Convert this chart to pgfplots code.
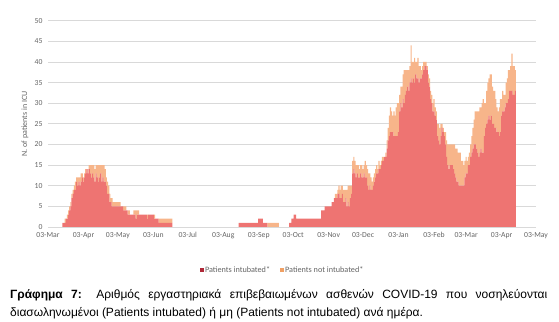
\documentclass[border=0pt]{standalone}
\usepackage{fontspec}
\setmainfont{Liberation Sans}
\newfontfamily\carlito{Carlito}
\usepackage{pgfplots}
\usepackage{pgfplotstable}
\pgfplotsset{compat=1.18}
\definecolor{intub}{RGB}{238,116,114}
\definecolor{notintub}{RGB}{247,181,138}
\definecolor{intubleg}{RGB}{175,40,55}
\definecolor{notintubleg}{RGB}{240,160,100}
\definecolor{gridgray}{RGB}{217,217,217}
\definecolor{txtgray}{RGB}{100,100,100}

\pgfplotstableread{
d a b
13 1 0
14 1 0
15 1 1
16 2 0
17 2 1
18 3 1
19 4 1
20 5 1
21 7 1
22 8 1
23 9 1
24 9 2
25 11 1
26 10 2
27 11 1
28 10 2
29 11 2
30 12 1
31 11 1
32 12 1
33 13 1
34 14 0
35 13 1
36 14 1
37 13 2
38 12 3
39 13 2
40 12 3
41 11 3
42 13 2
43 12 3
44 11 4
45 12 3
46 13 2
47 11 4
48 12 3
49 11 4
50 11 3
51 10 2
52 8 3
53 8 2
54 6 2
55 6 1
56 5 2
57 5 1
58 5 1
59 5 1
60 5 1
61 5 1
62 5 1
63 5 1
64 5 0
65 5 0
66 4 1
67 4 1
68 4 1
69 4 0
70 3 1
71 3 1
72 3 0
73 3 0
74 3 0
75 3 1
76 3 1
77 2 2
78 3 1
79 3 1
80 3 0
81 3 0
82 3 0
83 3 0
84 3 0
85 3 0
86 3 0
87 2 1
88 3 0
89 3 0
90 3 0
91 3 0
92 3 0
93 2 1
94 2 0
95 2 0
96 2 0
97 1 1
98 1 1
99 1 1
100 1 1
101 1 1
102 1 1
103 1 1
104 1 1
105 1 1
106 1 1
107 1 1
108 1 1
167 1 0
168 1 0
169 1 0
170 1 0
171 1 0
172 1 0
173 1 0
174 1 0
175 1 0
176 1 0
177 1 0
178 1 0
179 1 0
180 1 0
181 1 0
182 1 0
183 1 0
184 2 0
185 2 0
186 2 0
187 2 0
188 1 0
189 1 0
190 1 0
191 1 0
192 0 1
193 0 1
194 0 1
195 0 1
196 0 1
197 0 1
198 0 1
199 0 1
200 0 1
201 0 1
211 1 0
212 1 0
213 2 0
214 2 0
215 3 0
216 3 0
217 2 0
218 2 0
219 2 0
220 2 0
221 2 0
222 2 0
223 2 0
224 2 0
225 2 0
226 2 0
227 2 0
228 2 0
229 2 0
230 2 0
231 2 0
232 2 0
233 2 0
234 2 0
235 2 0
236 2 0
237 2 0
238 2 0
239 4 0
240 4 0
241 4 0
242 5 0
243 5 0
244 5 0
245 5 0
246 5 0
247 5 0
248 6 0
249 6 0
250 7 0
251 7 1
252 7 1
253 8 1
254 8 2
255 7 2
256 7 3
257 8 2
258 6 3
259 6 3
260 7 2
261 5 4
262 6 4
263 5 5
264 7 3
265 8 2
266 13 3
267 14 3
268 13 3
269 12 3
270 13 2
271 12 3
272 12 2
273 13 2
274 12 3
275 12 2
276 13 2
277 12 4
278 12 3
279 10 4
280 9 4
281 10 3
282 9 3
283 9 2
284 10 2
285 11 2
286 12 2
287 13 2
288 13 1
289 14 2
290 14 1
291 15 1
292 16 1
293 16 1
294 17 0
295 17 1
296 19 2
297 21 3
298 22 5
299 23 6
300 23 5
301 23 4
302 22 6
303 22 5
304 22 7
305 22 8
306 23 7
307 28 4
308 30 4
309 29 5
310 31 6
311 30 8
312 32 6
313 33 5
314 34 4
315 33 5
316 35 4
317 36 8
318 35 5
319 36 4
320 35 6
321 37 3
322 36 4
323 36 5
324 35 4
325 36 3
326 36 2
327 37 2
328 38 2
329 39 1
330 39 1
331 38 1
332 35 2
333 34 2
334 31 2
335 30 2
336 28 2
337 28 3
338 27 2
339 26 2
340 22 3
341 21 4
342 20 4
343 22 3
344 24 1
345 23 1
346 22 1
347 20 3
348 17 4
349 15 5
350 14 6
351 15 5
352 15 5
353 15 5
354 14 6
355 13 7
356 12 7
357 11 8
358 11 7
359 10 8
360 10 8
361 10 6
362 10 6
363 10 5
364 12 4
365 13 4
366 13 3
367 15 2
368 15 3
369 17 3
370 18 4
371 19 5
372 20 6
373 20 8
374 19 9
375 18 10
376 17 11
377 18 11
378 19 10
379 18 12
380 18 13
381 22 8
382 24 6
383 25 8
384 26 9
385 27 9
386 26 11
387 27 10
388 25 9
389 25 8
390 24 9
391 24 7
392 23 6
393 23 5
394 22 7
395 23 8
396 27 4
397 28 5
398 28 4
399 29 3
400 30 5
401 30 6
402 31 7
403 33 5
404 33 6
405 33 9
406 32 7
407 32 7
408 33 5
}\icudata

\begin{document}
\begin{tikzpicture}[x=1pt,y=1pt]
\useasboundingbox (0,0) rectangle (559,321);
\begin{axis}[
  at={(48pt,94pt)}, anchor=south west,
  scale only axis, width=488pt, height=206.3pt,
  xmin=0, xmax=426, ymin=0, ymax=50,
  enlargelimits=false,
  ybar stacked, bar width=1,
  xtick={0,31,61,92,122,153,184,214,245,275,306,337,365,396,426},
  xticklabels={03-Mar,03-Apr,03-May,03-Jun,03-Jul,03-Aug,03-Sep,03-Oct,03-Nov,03-Dec,03-Jan,03-Feb,03-Mar,03-Apr,03-May},
  ytick={0,5,...,50},
  ymajorgrids, grid style={draw=gridgray, line width=0.7pt},
  axis x line*=bottom, axis y line*=left,
  x axis line style={draw=gridgray, line width=0.7pt},
  y axis line style={draw=none},
  major tick length=0pt,
  /pgf/number format/assume math mode=true,
  ticklabel style={font=\carlito\fontsize{7.7}{8}\selectfont, text=txtgray},
  yticklabel style={xshift=-2pt},
  xticklabel style={yshift=-2pt},
  ylabel={N. of patients in ICU},
  every axis y label/.style={at={(axis description cs:-0.047,0.5)},rotate=90,anchor=center,font=\carlito\fontsize{8}{9}\selectfont,text=txtgray},
  legend style={at={(axis description cs:0.48,-0.208)},anchor=center,draw=none,fill=none,
    legend columns=2, font=\carlito\fontsize{8.2}{9}\selectfont, text=txtgray,
    /tikz/every even column/.append style={column sep=8pt},
    inner sep=0pt, nodes={inner sep=1.5pt}},
]
\addplot[fill=intub, draw=none,
  legend image code/.code={\fill[intubleg] (0pt,-2pt) rectangle (4pt,2pt);}]
  table[x=d,y=a]{\icudata};
\addlegendentry{Patients intubated*}
\addplot[fill=notintub, draw=none,
  legend image code/.code={\fill[notintubleg] (0pt,-2pt) rectangle (4pt,2pt);}]
  table[x=d,y=b]{\icudata};
\addlegendentry{Patients not intubated*}
\end{axis}
\node[anchor=base west, inner sep=0pt, font=\fontsize{12}{14}\selectfont] at (10,22.5)
  {\makebox[537pt][s]{\textbf{Γράφημα 7:} Αριθμός εργαστηριακά επιβεβαιωμένων ασθενών COVID-19 που νοσηλεύονται}};
\node[anchor=base west, inner sep=0pt, font=\fontsize{12}{14}\selectfont] at (10,5)
  {διασωληνωμένοι (Patients intubated) ή μη (Patients not intubated) ανά ημέρα.};
\end{tikzpicture}
\end{document}
